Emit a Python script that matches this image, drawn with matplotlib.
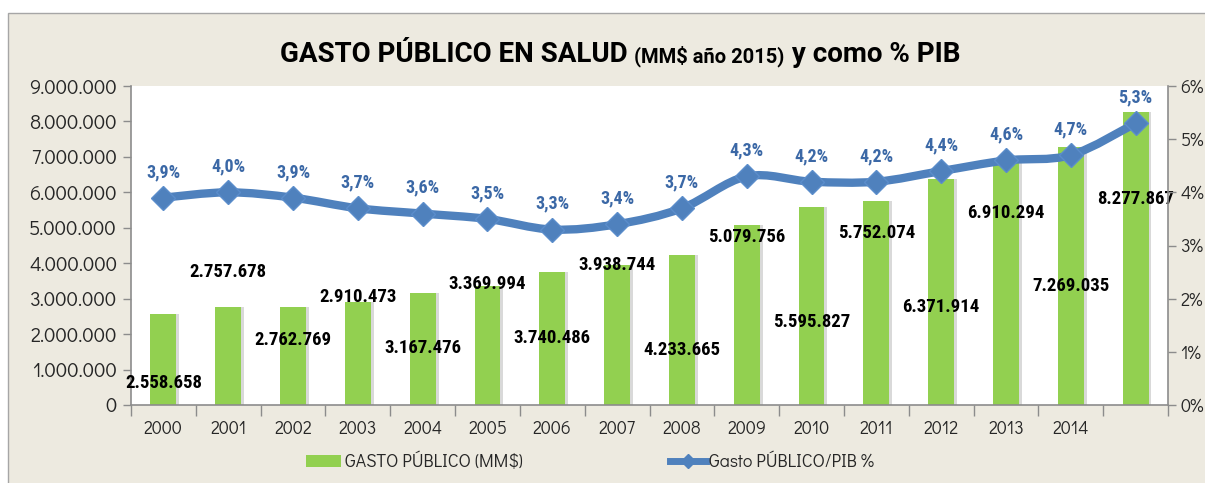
import matplotlib
matplotlib.use("Agg")
import matplotlib.pyplot as plt
import numpy as np
from matplotlib import font_manager
from matplotlib.path import Path
from matplotlib.patches import PathPatch, Patch
from matplotlib.lines import Line2D
from matplotlib.ticker import FuncFormatter, FixedLocator

# Data
years = ['2000', '2001', '2002', '2003', '2004', '2005', '2006', '2007',
         '2008', '2009', '2010', '2011', '2012', '2013', '2014', '']
gasto = [2558658, 2757678, 2762769, 2910473, 3167476, 3369994, 3740486,
         3938744, 4233665, 5079756, 5595827, 5752074, 6371914, 6910294,
         7269035, 8277867]
pib_pct = [3.9, 4.0, 3.9, 3.7, 3.6, 3.5, 3.3, 3.4, 3.7, 4.3, 4.2, 4.2,
           4.4, 4.6, 4.7, 5.3]

# where Excel happened to drop the bar value labels (left-axis units)
lbl_y = [0.62e6, 3.75e6, 1.83e6, 3.05e6, 1.61e6, 3.41e6, 1.89e6, 3.95e6,
         1.55e6, 4.74e6, 2.34e6, 4.85e6, 2.76e6, 5.42e6, 3.36e6, 5.81e6]

BG = '#EDEAE0'
GREEN = '#92D050'
BLUE = '#4F81BD'
LBLUE = '#3B68A6'
AXC = '#8C8C8C'
TXT = '#262626'

installed = set(f.name for f in font_manager.fontManager.ttflist)


def pick(cands, default='DejaVu Sans'):
    for c in cands:
        if c in installed:
            return [c, 'DejaVu Sans']
    return [default]


NARROW = pick(['Liberation Sans Narrow', 'Arial Narrow', 'Roboto Condensed',
               'PT Sans Narrow', 'Archivo Narrow', 'Fira Sans Condensed',
               'IBM Plex Sans Condensed', 'Open Sans Condensed', 'Roboto'])
GOTHIC = pick(['URW Gothic', 'Didact Gothic', 'Questrial', 'Mulish',
               'Muli', 'DejaVu Sans'])
TITLEF = pick(['Roboto', 'Lato', 'Open Sans'])


def fmt_thousands(v, pos=None):
    return '{:,.0f}'.format(v).replace(',', '.')


def smooth_path(xs, ys):
    # Excel-like smoothed line: Catmull-Rom converted to cubic beziers
    pts = np.column_stack([xs, ys]).astype(float)
    n = len(pts)
    verts = [pts[0]]
    codes = [Path.MOVETO]
    for i in range(n - 1):
        p0 = pts[max(i - 1, 0)]
        p1 = pts[i]
        p2 = pts[i + 1]
        p3 = pts[min(i + 2, n - 1)]
        c1 = p1 + (p2 - p0) / 6.0
        c2 = p2 - (p3 - p1) / 6.0
        verts += [c1, c2, p2]
        codes += [Path.CURVE4] * 3
    return Path(verts, codes)


fig = plt.figure(figsize=(12.05, 4.83), dpi=100)
fig.patch.set_facecolor('white')

# chart frame
frame = plt.Rectangle((8 / 1205, -0.1), 1.2, (483 - 13) / 483 + 0.1,
                      transform=fig.transFigure, facecolor=BG,
                      edgecolor='#A6A6A6', linewidth=1.0, zorder=-10)
fig.patches.append(frame)

ax = fig.add_axes([131 / 1205, 78 / 483, 1037 / 1205, 319 / 483])
ax.set_facecolor('white')
x = np.arange(len(gasto))

# light shadow on the right of each bar, then the bar
ax.bar(x + 0.045, gasto, width=0.4, color='#D9D9D9', zorder=1)
ax.bar(x, gasto, width=0.4, color=GREEN, zorder=2)

ax.set_xlim(-0.5, len(gasto) - 0.5)
ax.set_ylim(0, 9000000)
ax.yaxis.set_major_locator(FixedLocator(np.arange(0, 9000001, 1000000)))
ax.yaxis.set_major_formatter(FuncFormatter(fmt_thousands))
ax.set_xticks(x)
ax.set_xticklabels(years, family=GOTHIC)
ax.xaxis.set_minor_locator(FixedLocator(np.arange(-0.5, len(gasto), 1.0)))
ax.tick_params(axis='x', which='major', length=0, pad=11, labelsize=12.8,
               labelcolor=TXT)
ax.tick_params(axis='x', which='minor', length=8, width=1, color=AXC,
               direction='out')
ax.tick_params(axis='y', length=6, width=1, color=AXC, labelsize=14.5,
               labelcolor=TXT, pad=4)
for lab in ax.get_yticklabels():
    lab.set_family(GOTHIC)
for s in ['top', 'right']:
    ax.spines[s].set_visible(False)
for s in ['left', 'bottom']:
    ax.spines[s].set_color(AXC)
    ax.spines[s].set_linewidth(1.2)

for xi, v, ly in zip(x, gasto, lbl_y):
    ax.text(xi, ly, fmt_thousands(v), ha='center', va='center',
            fontsize=13.5, fontweight='bold', color='black',
            family=NARROW, zorder=6)

# secondary axis: share of GDP
ax2 = ax.twinx()
ax2.set_ylim(0, 6)
ax2.set_yticks(np.arange(0, 7, 1))
ax2.yaxis.set_major_formatter(FuncFormatter(lambda v, p: '{:.0f}%'.format(v)))
ax2.tick_params(axis='y', length=6, width=1, color=AXC, labelsize=13,
                labelcolor=TXT, pad=3)
for lab in ax2.get_yticklabels():
    lab.set_family(GOTHIC)
for s in ['top', 'left', 'bottom']:
    ax2.spines[s].set_visible(False)
ax2.spines['right'].set_color(AXC)
ax2.spines['right'].set_linewidth(1.2)

ax2.add_patch(PathPatch(smooth_path(x, pib_pct), facecolor='none',
                        edgecolor=BLUE, linewidth=6, capstyle='round',
                        joinstyle='round', zorder=3))
ax2.plot(x, pib_pct, linestyle='none', marker='D', markersize=12,
         markerfacecolor=BLUE, markeredgecolor='#5B8DCB',
         markeredgewidth=1, zorder=4)
for xi, p in zip(x, pib_pct):
    ax2.annotate('{:.1f}%'.format(p).replace('.', ','), (xi, p),
                 xytext=(0, 18.5), textcoords='offset points', ha='center',
                 va='center', fontsize=13, fontweight='bold', color=LBLUE,
                 family=NARROW, zorder=6)

# title in three pieces of different size
parts = [('GASTO PÚBLICO EN SALUD ', 20), ('(MM$ año 2015)', 14.5),
         (' y como % PIB', 20)]
texts = [fig.text(0, 421 / 483, t, fontsize=s, fontweight='bold',
                  color='black', family=TITLEF, va='baseline')
         for t, s in parts]
fig.canvas.draw()
r = fig.canvas.get_renderer()
widths = [t.get_window_extent(r).width for t in texts]
xpos = 620 - sum(widths) / 2
for t, w in zip(texts, widths):
    t.set_x(xpos / 1205)
    xpos += w

# legend
handles = [Patch(facecolor=GREEN, edgecolor='none'),
           Line2D([0], [0], color=BLUE, linewidth=5, marker='D',
                  markersize=7, markerfacecolor=BLUE)]
fig.legend(handles, ['GASTO PÚBLICO (MM$)', 'Gasto PÚBLICO/PIB %'],
           loc='center', bbox_to_anchor=(590 / 1205, 21 / 483), ncol=2,
           frameon=False, prop={'family': GOTHIC, 'size': 12.8},
           labelcolor=TXT, columnspacing=8.3, handlelength=2.0,
           handletextpad=0.2)

fig.savefig('out.png', dpi=100, facecolor=fig.get_facecolor())
